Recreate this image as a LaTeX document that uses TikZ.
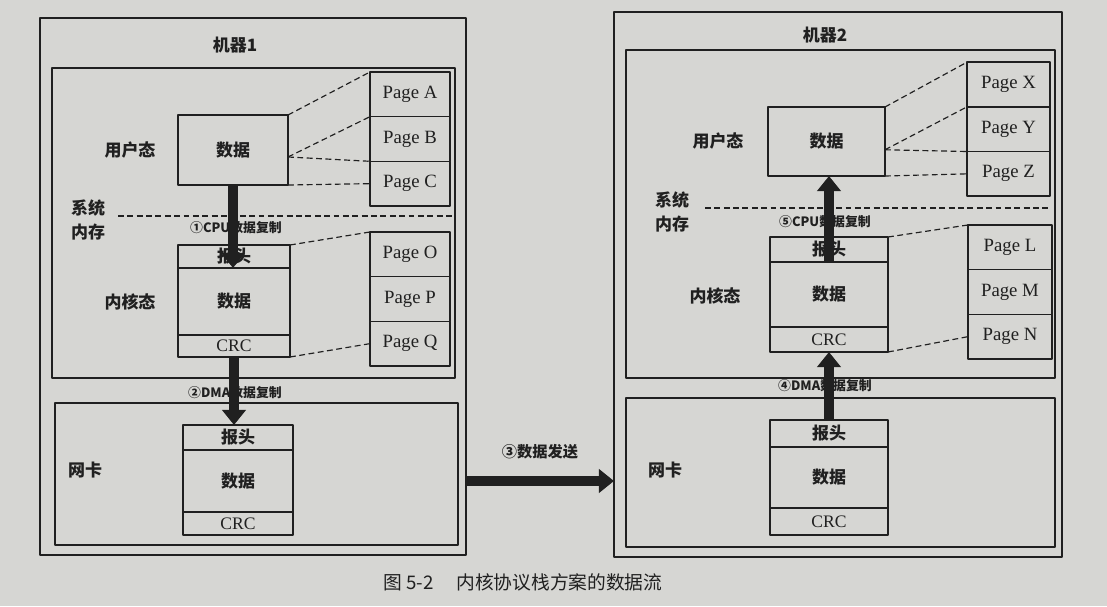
\documentclass[tikz,border=0pt]{standalone}
\usepackage{fontspec}
\setmainfont{Liberation Serif}
\newfontfamily\cjk{Noto Sans CJK SC}
\usetikzlibrary{positioning,arrows.meta,calc}
\definecolor{paper}{HTML}{D6D6D3}
\definecolor{ink}{HTML}{202020}

\begin{document}
\begin{tikzpicture}[x=0.03cm, y=-0.03cm, line join=round,
    frame/.style={draw=ink, line width=1.3pt, inner sep=0pt, outer sep=0pt},
    cell/.style={frame, text=ink, font=\cjk\bfseries\fontsize{14.5}{16}\selectfont},
    crc/.style={frame, text=ink, font=\fontsize{15}{17}\selectfont},
    page/.style={frame, text=ink, font=\fontsize{16}{18}\selectfont, minimum height=1.34cm},
    lbl/.style={text=ink, align=center, font=\cjk\bfseries\fontsize{14.5}{21}\selectfont},
    small/.style={text=ink, font=\cjk\bfseries\fontsize{11}{13}\selectfont},
    link/.style={draw=ink, line width=1pt, dash pattern=on 5pt off 3pt},
    bigarrow/.style={draw=ink, line width=8.5pt, -{Triangle[width=20pt,length=13pt]}}]
  \useasboundingbox[fill=paper] (0,0) rectangle (1107,606);

  % machine 1
  \node[frame, minimum width=12.78cm, minimum height=16.11cm] (m1) at (253,286.5) {};
  \node[lbl] (t1) at (235,45) {机器1};
  \node[frame, minimum width=12.09cm, minimum height=9.3cm] (mem1) at (253.5,223) {};
  \node[frame, minimum width=12.09cm, minimum height=4.26cm] (nic1) at (256.5,474) {};

  \node[cell, minimum width=3.3cm, minimum height=2.1cm] (ud1) at (233,150) {数据};
  \node[cell, minimum width=3.36cm, minimum height=0.69cm] (kh1) at (234,256.5) {报头};
  \node[cell, minimum width=3.36cm, minimum height=2.01cm, below=0pt of kh1] (kd1) {数据};
  \node[crc, minimum width=3.36cm, minimum height=0.66cm, below=0pt of kd1] (kc1) {CRC};

  \node[cell, minimum width=3.3cm, minimum height=0.75cm] (nh1) at (238,437.5) {报头};
  \node[cell, minimum width=3.3cm, minimum height=1.86cm, below=0pt of nh1] (nd1) {数据};
  \node[crc, minimum width=3.3cm, minimum height=0.69cm, below=0pt of nd1] (nc1) {CRC};

  \node[page, minimum width=2.4cm] (pA) at (410,94.3) {Page A};
  \node[page, minimum width=2.4cm, below=0pt of pA] (pB) {Page B};
  \node[page, minimum width=2.4cm, below=0pt of pB] (pC) {Page C};
  \node[page, minimum width=2.4cm] (pO) at (410,254.3) {Page O};
  \node[page, minimum width=2.4cm, below=0pt of pO] (pP) {Page P};
  \node[page, minimum width=2.4cm, below=0pt of pP] (pQ) {Page Q};

  \node[lbl] (u1) at (130,150) {用户态};
  \node[lbl] (s1) at (88,220) {系统\\内存};
  \node[lbl] (k1) at (130,302) {内核态};
  \node[lbl] (n1) at (85,470) {网卡};
  \node[small] (c1) at (236,228) {①CPU数据复制};
  \node[small] (d1) at (235,393) {②DMA数据复制};

  \coordinate (sa1) at (118,216);
  \coordinate (sb1) at (453,216);
  \draw[link] (sa1) -- (sb1);
  \coordinate (ue1) at ($(ud1.north east)!0.6!(ud1.south east)$);
  \draw[link] (ud1.north east) -- (pA.north west);
  \draw[link] (ue1) -- (pB.north west);
  \draw[link] (ue1) -- (pC.north west);
  \draw[link] (ud1.south east) -- (pC.west);
  \draw[link] (kh1.north east) -- (pO.north west);
  \draw[link] (kc1.south east) -- (pQ.west);

  % machine 2
  \node[frame, minimum width=13.44cm, minimum height=16.35cm] (m2) at (838,284.5) {};
  \node[lbl] (t2) at (825,35) {机器2};
  \node[frame, minimum width=12.87cm, minimum height=9.84cm] (mem2) at (840.5,214) {};
  \node[frame, minimum width=12.87cm, minimum height=4.47cm] (nic2) at (840.5,472.5) {};

  \node[cell, minimum width=3.51cm, minimum height=2.07cm] (ud2) at (826.5,141.5) {数据};
  \node[cell, minimum width=3.54cm, minimum height=0.75cm] (kh2) at (829,249.5) {报头};
  \node[cell, minimum width=3.54cm, minimum height=1.95cm, below=0pt of kh2] (kd2) {数据};
  \node[crc, minimum width=3.54cm, minimum height=0.75cm, below=0pt of kd2] (kc2) {CRC};

  \node[cell, minimum width=3.54cm, minimum height=0.81cm] (nh2) at (829,433.5) {报头};
  \node[cell, minimum width=3.54cm, minimum height=1.83cm, below=0pt of nh2] (nd2) {数据};
  \node[crc, minimum width=3.54cm, minimum height=0.81cm, below=0pt of nd2] (nc2) {CRC};

  \node[page, minimum width=2.49cm] (pX) at (1008.5,84.5) {Page X};
  \node[page, minimum width=2.49cm, below=0pt of pX] (pY) {Page Y};
  \node[page, minimum width=2.49cm, below=0pt of pY] (pZ) {Page Z};
  \node[page, minimum width=2.52cm] (pL) at (1010,247.3) {Page L};
  \node[page, minimum width=2.52cm, below=0pt of pL] (pM) {Page M};
  \node[page, minimum width=2.52cm, below=0pt of pM] (pN) {Page N};

  \node[lbl] (u2) at (718,141) {用户态};
  \node[lbl] (s2) at (672,212) {系统\\内存};
  \node[lbl] (k2) at (715,296) {内核态};
  \node[lbl] (n2) at (665,470) {网卡};
  \node[small] (c2) at (825,222) {⑤CPU数据复制};
  \node[small] (d2) at (825,386) {④DMA数据复制};

  \coordinate (sa2) at (705,208);
  \coordinate (sb2) at (1051,208);
  \draw[link] (sa2) -- (sb2);
  \coordinate (ue2) at ($(ud2.north east)!0.62!(ud2.south east)$);
  \draw[link] (ud2.north east) -- (pX.north west);
  \draw[link] (ue2) -- (pY.north west);
  \draw[link] (ue2) -- (pZ.north west);
  \draw[link] (ud2.south east) -- (pZ.west);
  \draw[link] (kh2.north east) -- (pL.north west);
  \draw[link] (kc2.south east) -- (pN.west);

  % data flow
  \node[text=ink, font=\cjk\bfseries\fontsize{13}{15}\selectfont] (send) at (540,452) {③数据发送};
  \draw[bigarrow] (ud1.south) -- (ud1.south |- kh1.south);
  \draw[bigarrow] (kc1.south) -- (kc1.south |- nh1.north);
  \draw[bigarrow] (m1.east |- nd1) -- (m2.west |- nd1);
  \draw[bigarrow] (nh2.north) -- (nh2.north |- kc2.south);
  \draw[bigarrow] (kd2.north) -- (kd2.north |- ud2.south);

  \node[text=ink, font=\cjk\fontsize{16}{18}\selectfont] (cap) at (523,582) {图 5-2\hspace{1.2em}内核协议栈方案的数据流};
\end{tikzpicture}
\end{document}
